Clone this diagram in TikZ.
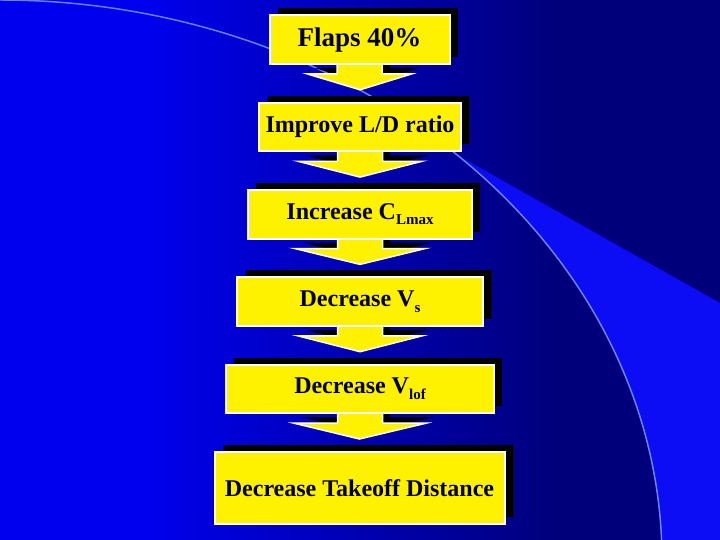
\documentclass[tikz,border=0pt]{standalone}
\usepackage{fontspec}
\setmainfont{Liberation Serif}
\usetikzlibrary{calc,shadows}

\definecolor{slideblue}{RGB}{0,0,238}
\definecolor{slidenavy}{RGB}{0,0,122}
\definecolor{wedgeblue}{RGB}{12,12,245}
\definecolor{arcblue}{RGB}{100,130,255}

\pgfdeclarehorizontalshading{slidebg}{100bp}{color(0bp)=(slideblue); color(35bp)=(slideblue); color(64bp)=(slidenavy); color(100bp)=(slidenavy)}

\pgfdeclarelayer{backdrop}
\pgfdeclarelayer{arrows}
\pgfsetlayers{backdrop,arrows,main}

% lowered subscript, as on the slide
\newcommand{\lowsub}[1]{\raisebox{-5.5pt}{\fontsize{15}{15}\selectfont #1}}
% block arrow from box #1 down to box #2, #3 = half width of the head
\newcommand{\flowarrow}[3]{%
  \path[flowarr] ($(#1.south)+(-22.5,2)$) -- ($(#1.south)+(-22.5,-9)$) -- ($(#1.south)+(-#3,-9)$)
    -- ($(#2.north)+(0,12)$) -- ($(#1.south)+(#3,-9)$) -- ($(#1.south)+(22.5,-9)$) -- ($(#1.south)+(22.5,2)$) -- cycle;}

\begin{document}
\begin{tikzpicture}[x=1pt,y=1pt,
  flowbox/.style={fill=yellow, draw=white, line width=2pt, inner sep=0pt,
    font=\bfseries\fontsize{24}{28}\selectfont,
    drop shadow={shadow xshift=8pt, shadow yshift=7pt, fill=black, opacity=1}},
  flowarr/.style={fill=yellow, draw=white, line width=1.5pt,
    drop shadow={shadow xshift=7pt, shadow yshift=6pt, fill=black, opacity=1}}]
  \useasboundingbox (0,0) rectangle (720,540);

  % the boxes
  \node[flowbox, minimum width=180pt, minimum height=48.5pt, font=\bfseries\fontsize{27}{30}\selectfont] (flaps) at (359.5,500.25) {Flaps 40\%};
  \node[flowbox, minimum width=202pt, minimum height=48.5pt] (ldratio) at (360,412.95) {Improve L/D ratio};
  \node[flowbox, minimum width=224pt, minimum height=48.5pt] (clmax) at (360,325.65) {Increase C\lowsub{Lmax}};
  \node[flowbox, minimum width=246pt, minimum height=48.5pt] (vstall) at (360,238.35) {Decrease V\lowsub{s}};
  \node[flowbox, minimum width=268pt, minimum height=48.5pt] (vlof) at (360,151.05) {Decrease V\lowsub{lof}};
  \node[flowbox, minimum width=290pt, minimum height=72pt] (tod) at (359.5,52) {Decrease Takeoff Distance};

  % the arrows, behind the boxes
  \begin{pgfonlayer}{arrows}
    \flowarrow{flaps}{ldratio}{52}
    \flowarrow{ldratio}{clmax}{62}
    \flowarrow{clmax}{vstall}{65}
    \flowarrow{vstall}{vlof}{62}
    \flowarrow{vlof}{tod}{66}
  \end{pgfonlayer}

  % slide background
  \begin{pgfonlayer}{backdrop}
    \shade[shading=slidebg] (0,0) rectangle (720,540);
    \fill[wedgeblue] ([shift={(0,-20)}]46.3:662 and 560) arc[start angle=46.3, end angle=2, x radius=662, y radius=560]
      -- (720,0) -- (720,237) -- cycle;
    \begin{scope}
      \clip (0,0) rectangle (720,540);
      \draw[arcblue, line width=1.5pt] (0,540) arc[start angle=90, end angle=-3, x radius=662, y radius=560];
    \end{scope}
  \end{pgfonlayer}
\end{tikzpicture}
\end{document}
